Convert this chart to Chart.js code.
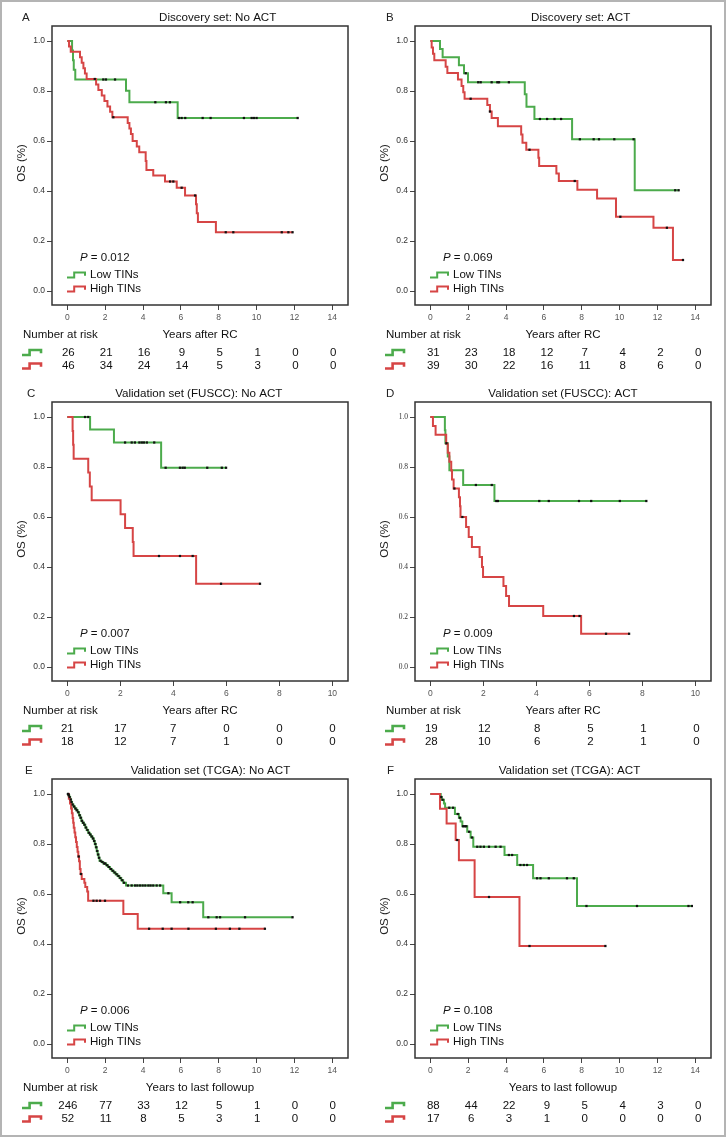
<!DOCTYPE html>
<html>
<head>
<meta charset="utf-8">
<script src="https://cdn.jsdelivr.net/npm/chart.js@4/dist/chart.umd.min.js"></script>
<style>
  body { margin: 0; background: #fff; }
  #page { position: relative; width: 727px; height: 1137px; overflow: hidden; }
  #frame { position: absolute; left: 0; top: 0; width: 722px; height: 1133px; border: 2px solid #b4b4b4; }
  canvas { position: absolute; }
</style>
</head>
<body>
<div id="page"><div id="frame"></div></div>
<script>
const yTicks = [0, 0.2, 0.4, 0.6, 0.8, 1.0];
const xTicks14 = [0, 2, 4, 6, 8, 10, 12, 14];
const xTicks10 = [0, 2, 4, 6, 8, 10];

// A - Discovery set: No ACT
const aLowT = [0, 0.25, 0.3, 0.34, 0.42, 3.1, 3.28, 5.83];
const aLowS = [1, 0.962, 0.923, 0.885, 0.846, 0.801, 0.755, 0.692];
const aLowC = [1.9, 2.04, 2.52, 4.65, 5.21, 5.42, 5.9, 6.04, 6.23, 7.15, 7.57, 9.33, 9.74, 9.86, 10.0, 12.17];
const aHighT = [0, 0.09, 0.18, 0.67, 0.76, 0.85, 0.93, 1.02, 1.52, 1.64, 1.82, 1.96, 2.12, 2.26, 2.38, 3.19, 3.28, 3.36, 3.45, 3.67, 3.8, 4.14, 4.18, 4.54, 5.16, 5.78, 6.22, 6.8, 6.84, 6.9, 7.85];
const aHighS = [1, 0.978, 0.957, 0.935, 0.913, 0.891, 0.870, 0.848, 0.826, 0.804, 0.782, 0.760, 0.738, 0.717, 0.695, 0.672, 0.650, 0.628, 0.600, 0.578, 0.555, 0.520, 0.484, 0.462, 0.438, 0.413, 0.382, 0.347, 0.311, 0.276, 0.235];
const aHighC = [1.45, 2.43, 5.43, 5.6, 6.04, 6.75, 8.37, 8.77, 11.33, 11.68, 11.9];
const aRiskLow = [26, 21, 16, 9, 5, 1, 0, 0];
const aRiskHigh = [46, 34, 24, 14, 5, 3, 0, 0];

// B - Discovery set: ACT
const bLowT = [0, 0.51, 0.65, 1.51, 1.78, 1.99, 4.99, 5.08, 5.5, 7.49, 10.8];
const bLowS = [1, 0.968, 0.935, 0.903, 0.871, 0.835, 0.787, 0.737, 0.688, 0.607, 0.403];
const bLowC = [1.87, 2.53, 2.66, 3.24, 3.54, 3.63, 4.15, 5.79, 6.17, 6.56, 6.91, 7.9, 8.63, 8.91, 9.72, 10.74, 12.94, 13.12];
const bHighT = [0, 0.07, 0.14, 0.21, 0.81, 0.9, 1.46, 1.65, 1.74, 1.81, 3.01, 3.15, 3.24, 3.57, 4.8, 4.87, 5.07, 5.71, 5.75, 6.66, 6.79, 7.77, 8.81, 9.81, 11.79, 12.82];
const bHighS = [1, 0.974, 0.949, 0.923, 0.897, 0.872, 0.846, 0.820, 0.795, 0.769, 0.744, 0.718, 0.692, 0.659, 0.626, 0.593, 0.565, 0.533, 0.500, 0.470, 0.440, 0.405, 0.370, 0.297, 0.253, 0.124];
const bHighC = [2.13, 3.15, 5.24, 7.63, 10.04, 12.5, 13.35];
const bRiskLow = [31, 23, 18, 12, 7, 4, 2, 0];
const bRiskHigh = [39, 30, 22, 16, 11, 8, 6, 0];

// C - Validation set (FUSCC): No ACT
const cLowT = [0, 0.86, 1.76, 3.54];
const cLowS = [1, 0.95, 0.898, 0.797];
const cLowC = [0.67, 0.79, 2.18, 2.43, 2.55, 2.72, 2.81, 2.89, 3.0, 3.28, 3.71, 4.25, 4.35, 4.43, 5.28, 5.83, 5.99];
const cHighT = [0, 0.2, 0.22, 0.24, 0.79, 0.85, 0.92, 2.01, 2.18, 2.47, 2.5, 4.86];
const cHighS = [1, 0.944, 0.889, 0.833, 0.778, 0.722, 0.667, 0.611, 0.556, 0.5, 0.444, 0.333];
const cHighC = [3.46, 4.25, 4.73, 5.8, 7.27];
const cRiskLow = [21, 17, 7, 0, 0, 0];
const cRiskHigh = [18, 12, 7, 1, 0, 0];

// D - Validation set (FUSCC): ACT
const dLowT = [0, 0.55, 0.57, 0.66, 0.72, 1.24, 2.42];
const dLowS = [1, 0.947, 0.895, 0.842, 0.787, 0.728, 0.664];
const dLowC = [0.61, 1.72, 2.32, 2.49, 2.55, 4.11, 4.47, 5.61, 6.07, 7.15, 8.15];
const dHighT = [0, 0.1, 0.2, 0.6, 0.66, 0.72, 0.79, 0.82, 0.88, 1.08, 1.12, 1.14, 1.35, 1.45, 1.57, 1.86, 1.95, 1.99, 2.76, 2.86, 2.97, 4.26, 5.69];
const dHighS = [1, 0.964, 0.929, 0.893, 0.857, 0.821, 0.786, 0.75, 0.714, 0.679, 0.643, 0.6, 0.56, 0.52, 0.48, 0.44, 0.4, 0.36, 0.324, 0.284, 0.244, 0.204, 0.133];
const dHighC = [0.91, 1.21, 5.42, 5.63, 6.63, 7.5];
const dRiskLow = [19, 12, 8, 5, 1, 0];
const dRiskHigh = [28, 10, 6, 2, 1, 0];

// E - Validation set (TCGA): No ACT
const eLowT = [0, 0.05, 0.1, 0.15, 0.2, 0.25, 0.32, 0.4, 0.48, 0.55, 0.62, 0.68, 0.74, 0.8, 0.88, 0.95, 1.02, 1.1, 1.18, 1.25, 1.33, 1.4, 1.45, 1.5, 1.55, 1.6, 1.65, 1.7, 1.8, 1.9, 2.05, 2.15, 2.25, 2.35, 2.45, 2.55, 2.65, 2.75, 2.85, 2.95, 3.1, 5.07, 5.51, 7.18];
const eLowS = [1, 0.995, 0.988, 0.978, 0.968, 0.958, 0.95, 0.942, 0.935, 0.927, 0.915, 0.905, 0.893, 0.885, 0.877, 0.866, 0.856, 0.845, 0.838, 0.83, 0.822, 0.812, 0.8, 0.787, 0.772, 0.758, 0.745, 0.733, 0.728, 0.722, 0.715, 0.708, 0.7, 0.693, 0.686, 0.679, 0.672, 0.664, 0.655, 0.645, 0.634, 0.603, 0.567, 0.507];
const eLowC = [0.03, 0.08, 0.12, 0.18, 0.22, 0.28, 0.35, 0.43, 0.5, 0.58, 0.65, 0.71, 0.77, 0.84, 0.91, 0.98, 1.06, 1.14, 1.21, 1.29, 1.36, 1.42, 1.48, 1.53, 1.58, 1.63, 1.68, 1.75, 1.85, 1.95, 2.0, 2.1, 2.2, 2.3, 2.4, 2.5, 2.6, 2.7, 2.8, 2.9, 3.0, 3.2, 3.4, 3.58, 3.7, 3.84, 3.98, 4.12, 4.28, 4.4, 4.54, 4.72, 4.9, 5.34, 5.96, 6.39, 6.62, 7.45, 7.89, 8.07, 9.39, 11.9];
const eHighT = [0, 0.08, 0.14, 0.2, 0.24, 0.28, 0.31, 0.34, 0.38, 0.42, 0.46, 0.5, 0.54, 0.58, 0.62, 0.66, 0.7, 0.76, 0.9, 0.95, 1.05, 1.1, 2.96, 3.72];
const eHighS = [1, 0.981, 0.962, 0.942, 0.923, 0.904, 0.885, 0.865, 0.846, 0.827, 0.808, 0.788, 0.769, 0.75, 0.731, 0.70, 0.68, 0.66, 0.645, 0.628, 0.61, 0.573, 0.52, 0.461];
const eHighC = [0.05, 0.6, 0.72, 1.38, 1.55, 1.73, 1.99, 4.32, 5.04, 5.51, 6.4, 7.85, 8.59, 9.09, 10.44];
const eRiskLow = [246, 77, 33, 12, 5, 1, 0, 0];
const eRiskHigh = [52, 11, 8, 5, 3, 1, 0, 0];

// F - Validation set (TCGA): ACT
const fLowT = [0, 0.55, 0.6, 0.72, 0.78, 1.3, 1.51, 1.6, 1.69, 1.95, 2.13, 2.27, 3.92, 4.59, 5.43, 7.75];
const fLowS = [1, 0.988, 0.977, 0.962, 0.945, 0.92, 0.905, 0.89, 0.871, 0.849, 0.826, 0.789, 0.756, 0.716, 0.663, 0.552];
const fLowC = [0.58, 0.65, 1.0, 1.2, 1.45, 1.56, 1.73, 1.82, 1.9, 2.05, 2.2, 2.48, 2.65, 2.83, 3.1, 3.45, 3.71, 4.15, 4.32, 4.76, 4.94, 5.11, 5.64, 5.82, 6.26, 7.22, 7.58, 8.25, 10.92, 13.64, 13.82];
const fHighT = [0, 0.51, 0.86, 1.34, 1.51, 2.34, 4.71];
const fHighS = [1, 0.941, 0.882, 0.816, 0.735, 0.588, 0.392];
const fHighC = [1.42, 3.1, 5.24, 9.25];
const fRiskLow = [88, 44, 22, 9, 5, 4, 3, 0];
const fRiskHigh = [17, 6, 3, 1, 0, 0, 0, 0];

const FONT = '"Liberation Sans", Arial, sans-serif';
const GREEN = '#4cab4c';
const RED = '#d64545';

const panels = [
  { key: 'A', title: 'Discovery set: No ACT', p: '0.012', xTitle: 'Years after RC', ticks: xTicks14, range: [-0.81, 14.83],
    low: [aLowT, aLowS, aLowC], high: [aHighT, aHighS, aHighC], risk: [aRiskLow, aRiskHigh], atRisk: true,
    left: 0, top: 0, titleX: 217.7, labelX: 22, riskDx: 1 },
  { key: 'B', title: 'Discovery set: ACT', p: '0.069', xTitle: 'Years after RC', ticks: xTicks14, range: [-0.81, 14.83],
    low: [bLowT, bLowS, bLowC], high: [bHighT, bHighS, bHighC], risk: [bRiskLow, bRiskHigh], atRisk: true,
    left: 363, top: 0, titleX: 217.7, labelX: 23, riskDx: 3 },
  { key: 'C', title: 'Validation set (FUSCC): No ACT', p: '0.007', xTitle: 'Years after RC', ticks: xTicks10, range: [-0.577, 10.59],
    low: [cLowT, cLowS, cLowC], high: [cHighT, cHighS, cHighC], risk: [cRiskLow, cRiskHigh], atRisk: true,
    left: 0, top: 376, titleX: 198.8, labelX: 27, riskDx: 0 },
  { key: 'D', title: 'Validation set (FUSCC): ACT', p: '0.009', xTitle: 'Years after RC', ticks: xTicks10, range: [-0.577, 10.59],
    low: [dLowT, dLowS, dLowC], high: [dHighT, dHighS, dHighC], risk: [dRiskLow, dRiskHigh], atRisk: true,
    left: 363, top: 376, titleX: 200, labelX: 23, riskDx: 1, serifY: true },
  { key: 'E', title: 'Validation set (TCGA): No ACT', p: '0.006', xTitle: 'Years to last followup', ticks: xTicks14, range: [-0.81, 14.83],
    low: [eLowT, eLowS, eLowC], high: [eHighT, eHighS, eHighC], risk: [eRiskLow, eRiskHigh], atRisk: true,
    left: 0, top: 753, titleX: 210.5, labelX: 25, riskDx: 0.5 },
  { key: 'F', title: 'Validation set (TCGA): ACT', p: '0.108', xTitle: 'Years to last followup', ticks: xTicks14, range: [-0.81, 14.83],
    low: [fLowT, fLowS, fLowC], high: [fHighT, fHighS, fHighC], risk: [fRiskLow, fRiskHigh], atRisk: false,
    left: 363, top: 753, titleX: 206.5, labelX: 24, riskDx: 3 }
];

function survAt(t, s, x) {
  let y = s[0];
  for (let i = 0; i < t.length; i++) if (t[i] <= x) y = s[i];
  return y;
}

function lineDs(c, color) {
  const [t, s, cens] = c;
  const pts = t.map((x, i) => ({ x: x, y: s[i] }));
  pts.push({ x: Math.max(t[t.length - 1], ...cens), y: s[s.length - 1] });
  return { data: pts, showLine: true, stepped: 'before', borderColor: color, borderWidth: 2, pointRadius: 0, fill: false };
}

function censorDs(c) {
  const [t, s, cens] = c;
  return { data: cens.map(x => ({ x: x, y: survAt(t, s, x) })), showLine: false, pointStyle: 'rect',
    pointRadius: 1.6, pointBackgroundColor: '#111', pointBorderWidth: 0 };
}

function txt(ctx, s, x, y, size, align, color, style) {
  ctx.font = (style ? style + ' ' : '') + size + 'px ' + FONT;
  ctx.textAlign = align;
  ctx.textBaseline = 'middle';
  ctx.fillStyle = color;
  ctx.fillText(s, x, y);
}

function stepIcon(ctx, x, y, w, h, color, lw) {
  ctx.strokeStyle = color;
  ctx.lineWidth = lw;
  ctx.beginPath();
  ctx.moveTo(x, y + h / 2);
  ctx.lineTo(x + w * 0.4, y + h / 2);
  ctx.lineTo(x + w * 0.4, y - h / 2);
  ctx.lineTo(x + w, y - h / 2);
  ctx.lineTo(x + w, y + h * 0.15);
  ctx.stroke();
}

function decor(pn) {
  return {
    id: 'decor' + pn.key,
    afterDraw(chart) {
      const ctx = chart.ctx, a = chart.chartArea, xs = chart.scales.x;
      ctx.save();
      ctx.strokeStyle = '#333';
      ctx.lineWidth = 1.5;
      ctx.strokeRect(a.left, a.top, a.right - a.left, a.bottom - a.top);

      txt(ctx, pn.key, pn.labelX, 18, 11.5, 'left', '#222');
      txt(ctx, pn.title, pn.titleX, 18, 11.6, 'center', '#111');

      ctx.save();
      ctx.translate(21.5, 163);
      ctx.rotate(-Math.PI / 2);
      txt(ctx, 'OS (%)', 0, 0, 11.5, 'center', '#222');
      ctx.restore();

      // P value
      txt(ctx, 'P', 80, 258, 11.5, 'left', '#111', 'italic');
      const pw = ctx.measureText('P').width;
      txt(ctx, ' = ' + pn.p, 80 + pw, 258, 11.5, 'left', '#111');

      // legend
      stepIcon(ctx, 67, 275, 18, 5, GREEN, 2);
      txt(ctx, 'Low TINs', 90, 275, 11.5, 'left', '#111');
      stepIcon(ctx, 67, 289, 18, 5, RED, 2);
      txt(ctx, 'High TINs', 90, 289, 11.5, 'left', '#111');

      // axis title and risk table
      txt(ctx, pn.xTitle, (a.left + a.right) / 2, 335, 11.5, 'center', '#111');
      if (pn.atRisk) txt(ctx, 'Number at risk', 23, 335, 11.5, 'left', '#111');
      stepIcon(ctx, 22, 352.5, 19, 5, GREEN, 2.6);
      stepIcon(ctx, 22, 366, 19, 5, RED, 2.6);
      pn.ticks.forEach((v, i) => {
        const x = xs.getPixelForValue(v) + pn.riskDx;
        txt(ctx, String(pn.risk[0][i]), x, 352.5, 11.5, 'center', '#111');
        txt(ctx, String(pn.risk[1][i]), x, 366, 11.5, 'center', '#111');
      });
      ctx.restore();
    }
  };
}

const page = document.getElementById('page');
panels.forEach(pn => {
  const cv = document.createElement('canvas');
  cv.width = 363;
  cv.height = 376;
  cv.style.left = pn.left + 'px';
  cv.style.top = pn.top + 'px';
  page.appendChild(cv);

  new Chart(cv, {
    type: 'scatter',
    data: {
      datasets: [censorDs(pn.low), censorDs(pn.high), lineDs(pn.high, RED), lineDs(pn.low, GREEN)]
    },
    options: {
      responsive: false,
      animation: false,
      events: [],
      layout: { padding: { left: 0, right: 15, top: 26, bottom: 51 } },
      plugins: { legend: { display: false }, tooltip: { enabled: false } },
      scales: {
        x: {
          type: 'linear', min: pn.range[0], max: pn.range[1],
          afterBuildTicks: s => { s.ticks = pn.ticks.map(v => ({ value: v })); },
          afterFit: s => { s.height = 20; },
          grid: { drawOnChartArea: false, tickLength: 5, color: '#444', lineWidth: 1 },
          border: { display: false },
          ticks: { autoSkip: false, maxRotation: 0, padding: 3, color: '#555',
            font: { family: FONT, size: 8.5 }, callback: v => String(v) }
        },
        y: {
          type: 'linear', min: -0.056, max: 1.06,
          afterBuildTicks: s => { s.ticks = yTicks.map(v => ({ value: v })); },
          afterFit: s => { s.width = 52; },
          grid: { drawOnChartArea: false, tickLength: 5, color: '#444', lineWidth: 1 },
          border: { display: false },
          ticks: { padding: 2, color: '#333',
            font: pn.serifY ? { family: '"Liberation Serif", serif', size: 7.5 } : { family: FONT, size: 8.5 },
            callback: v => v.toFixed(1) }
        }
      }
    },
    plugins: [decor(pn)]
  });
});
</script>
</body>
</html>
